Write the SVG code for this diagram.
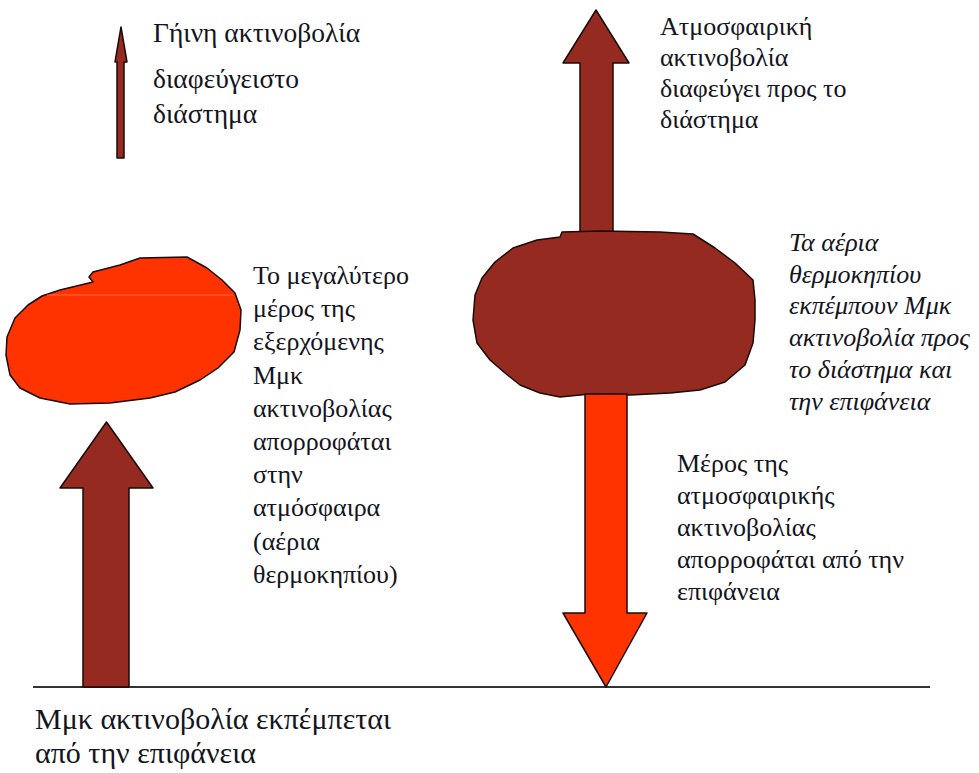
<svg xmlns="http://www.w3.org/2000/svg" width="979" height="773" viewBox="0 0 979 773">
<style>
.t{font-family:"Liberation Serif","Times New Roman",serif;font-size:26px;fill:#14141e}
.s{font-size:27.5px}
.b{font-size:30px}
.i{font-style:italic}
.brown{fill:#952b20;stroke:#1a0a08;stroke-width:1.5;stroke-linejoin:round}
.red{fill:#ff3300;stroke:#1a0a08;stroke-width:1.5;stroke-linejoin:round}
</style>
<rect width="979" height="773" fill="#fff"/>
<g id="connectors">
<line x1="33" y1="687" x2="930" y2="687" stroke="#333" stroke-width="2"/>
<polygon id="small-arrow" class="brown" points="121,27 127,62 124,62 124,158 117,158 117,62 115,62"/>
<polygon id="surface-arrow" class="brown" points="106.5,422 153,488 129,488 129,687 83,687 83,488 60,488"/>
<polygon id="space-arrow" class="brown" points="596,10 629,63 613,63 613,245 580,245 580,63 563,63"/>
</g>
<g id="cloud-left">
<path class="red" d="M89,277 L93,272 L120,265 L140,258 L187,257 L207,268 L222,280 L235,293 L241,310 L240,330 L234,352 L218,368 L200,380 L175,392 L150,398 L110,403 L70,404 L40,398 L20,388 L10,375 L6,355 L7,337 L15,318 L28,305 L42,296 L60,290 L93,282 Z"/>
<line x1="47" y1="295" x2="233" y2="295" stroke="#ff6a50" stroke-width="1"/>
</g>
<g id="cloud-right">
<path class="brown" d="M562,232 L600,231 L660,232 L693,234 L715,248 L735,263 L753,280 L755,300 L755,320 L753,343 L745,365 L725,382 L700,390 L670,393 L630,395 L590,394 L560,397 L540,393 L520,385 L505,373 L490,360 L477,343 L473,320 L475,295 L482,278 L495,262 L513,248 L537,240 L560,237 Z"/>
</g>
<g id="down-arrow">
<polygon class="red" points="585,394 627,394 627,613 647,613 606,687 563,613 585,613"/>
</g>
<g id="label-small">
<text class="t s" x="153" y="42">Γήινη ακτινοβολία</text>
<text class="t s" x="153" y="88">διαφεύγειστο</text>
<text class="t s" x="153" y="123">διάστημα</text>
</g>
<g id="label-top-right">
<text class="t" x="660" y="35">Ατμοσφαιρική</text>
<text class="t" x="660" y="66">ακτινοβολία</text>
<text class="t" x="660" y="97">διαφεύγει προς το</text>
<text class="t" x="660" y="128">διάστημα</text>
</g>
<g id="label-left">
<text class="t" x="253" y="284">Το μεγαλύτερο</text>
<text class="t" x="253" y="317">μέρος της</text>
<text class="t" x="253" y="350">εξερχόμενης</text>
<text class="t" x="253" y="384">Μμκ</text>
<text class="t" x="253" y="417">ακτινοβολίας</text>
<text class="t" x="253" y="450">απορροφάται</text>
<text class="t" x="253" y="483">στην</text>
<text class="t" x="253" y="516">ατμόσφαιρα</text>
<text class="t" x="253" y="550">(αέρια</text>
<text class="t" x="253" y="583">θερμοκηπίου)</text>
</g>
<g id="label-italic">
<text class="t i" x="789" y="251">Τα αέρια</text>
<text class="t i" x="789" y="283">θερμοκηπίου</text>
<text class="t i" x="789" y="314">εκπέμπουν Μμκ</text>
<text class="t i" x="789" y="346">ακτινοβολία προς</text>
<text class="t i" x="789" y="378">το διάστημα και</text>
<text class="t i" x="789" y="410">την επιφάνεια</text>
</g>
<g id="label-bottom-right">
<text class="t" x="677" y="472">Μέρος της</text>
<text class="t" x="677" y="504">ατμοσφαιρικής</text>
<text class="t" x="677" y="536">ακτινοβολίας</text>
<text class="t" x="677" y="568">απορροφάται από την</text>
<text class="t" x="677" y="600">επιφάνεια</text>
</g>
<g id="label-bottom">
<text class="t b" x="35" y="729">Μμκ ακτινοβολία εκπέμπεται</text>
<text class="t b" x="35" y="763">από την επιφάνεια</text>
</g>
</svg>
